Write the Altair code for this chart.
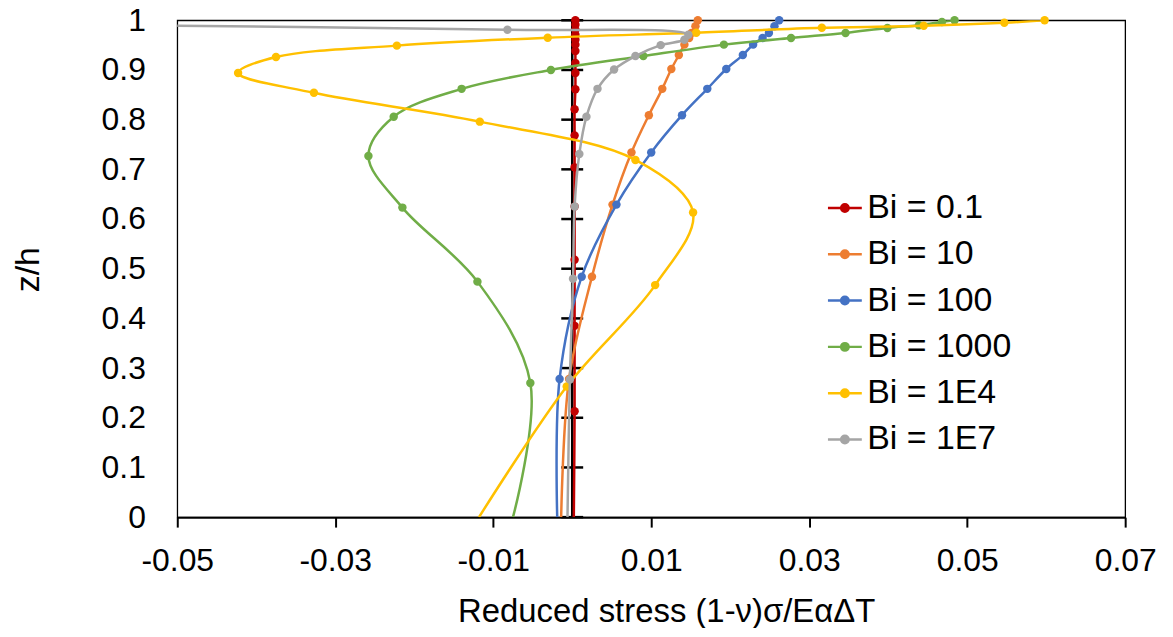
import altair as alt
import pandas as pd

# ---------------- data ----------------
series_names = ["Bi = 0.1", "Bi = 10", "Bi = 100", "Bi = 1000", "Bi = 1E4", "Bi = 1E7"]
series_colors = ["#C00000", "#ED7D31", "#4472C4", "#70AD47", "#FFC000", "#A5A5A5"]

red_z = [0.0, 0.213, 0.385, 0.518, 0.625, 0.704, 0.768, 0.821, 0.861, 0.894, 0.914, 0.938, 0.951, 0.961, 0.971, 0.981, 0.991, 1.0]
red_x = [0.0002, 0.0003, 0.0003, 0.0003, 0.0003, 0.0003, 0.0003, 0.0003, 0.0004, 0.0004, 0.0004, 0.0004, 0.0004, 0.0004, 0.0004, 0.0004, 0.0004, 0.0004]

orange_z = [0.0, 0.278, 0.484, 0.629, 0.734, 0.809, 0.862, 0.902, 0.930, 0.951, 0.9645, 0.9745, 0.988, 1.0]
orange_x = [-0.0014, -0.0004, 0.0025, 0.0051, 0.0075, 0.0097, 0.0114, 0.01255, 0.0135, 0.0142, 0.0148, 0.0151, 0.0156, 0.0159]

blue_z = [0.0, 0.278, 0.484, 0.629, 0.734, 0.809, 0.862, 0.902, 0.930, 0.951, 0.9645, 0.9745, 0.988, 1.0]
blue_x = [-0.0019, -0.0016, 0.0012, 0.0056, 0.0100, 0.0139, 0.0171, 0.0195, 0.0216, 0.0229, 0.0241, 0.0249, 0.0256, 0.0262]

green_z = [0.0, 0.270, 0.474, 0.623, 0.727, 0.806, 0.862, 0.900, 0.928, 0.951, 0.9645, 0.9745, 0.9846, 0.990, 0.9966, 1.0]
green_x = [-0.0075, -0.0053, -0.0120, -0.0215, -0.0258, -0.0226, -0.0140, -0.0027, 0.0090, 0.0192, 0.0277, 0.0346, 0.0399, 0.0439, 0.0468, 0.0484]

yellow_z = [0.0, 0.263, 0.467, 0.613, 0.719, 0.796, 0.854, 0.894, 0.926, 0.949, 0.965, 0.975, 0.985, 0.989, 0.995, 1.0]
yellow_x = [-0.0118, -0.0007, 0.0105, 0.0153, 0.0080, -0.0117, -0.0327, -0.0423, -0.0375, -0.0222, -0.0031, 0.0157, 0.0316, 0.0445, 0.0547, 0.0598]

gray_z = [0.0, 0.277, 0.480, 0.625, 0.731, 0.806, 0.862, 0.901, 0.928, 0.950, 0.961, 0.971, 0.981, 0.9905]
gray_x = [-0.0006, -0.0003, 0.0001, 0.0003, 0.0009, 0.0018, 0.0032, 0.0053, 0.0080, 0.0112, 0.0142, 0.0147, -0.0082, -0.0605]

x_domain = [-0.05, 0.07]
y_domain = [0.0, 1.0]
x_ticks = [-0.05, -0.03, -0.01, 0.01, 0.03, 0.05, 0.07]
y_ticks = [0.0, 0.1, 0.2, 0.3, 0.4, 0.5, 0.6, 0.7, 0.8, 0.9, 1.0]
cross_x = 0.0  # vertical axis crosses at zero

x_title = "Reduced stress (1-ν)σ/EαΔT"
y_title = "z/h"

# ---------------- build table ----------------
all_x = [red_x, orange_x, blue_x, green_x, yellow_x, gray_x]
all_z = [red_z, orange_z, blue_z, green_z, yellow_z, gray_z]
rows = []
for name, xs, zs in zip(series_names, all_x, all_z):
    for i, (xv, zv) in enumerate(zip(xs, zs)):
        rows.append({"series": name, "x": xv, "z": zv, "idx": i,
                     "marker": bool(zv > y_domain[0] and x_domain[0] <= xv <= x_domain[1])})
df = pd.DataFrame(rows)

zero_df = pd.DataFrame({"x": [cross_x], "z": [y_domain[0]], "z2": [y_domain[1]]})
tick_df = pd.DataFrame({"x": [cross_x] * len(y_ticks), "z": y_ticks})

FONT = "Liberation Sans"

xscale = alt.Scale(domain=x_domain, nice=False, zero=False)
yscale = alt.Scale(domain=y_domain, nice=False, zero=False)

x_axis = alt.Axis(values=x_ticks,
                  labelExpr="(datum.value < 0 ? '-' : '') + format(abs(datum.value), '.2f')",
                  title=x_title, grid=False,
                  tickSize=10, tickColor="black", tickWidth=2,
                  domainColor="black", domainWidth=2,
                  labelFont=FONT, labelFontSize=32, labelColor="black",
                  labelPadding=19, labelFlush=False, labelOverlap=False,
                  titleFont=FONT, titleFontSize=33, titleColor="black",
                  titleFontWeight="normal", titleX=491, titleY=105,
                  titleAlign="center", titleBaseline="alphabetic")
y_axis = alt.Axis(values=y_ticks, format=".1~f", title=y_title, grid=False,
                  ticks=False, tickSize=0, domain=False,
                  labelFont=FONT, labelFontSize=32, labelColor="black",
                  labelPadding=32, labelOverlap=False, labelFlush=False,
                  titleFont=FONT, titleFontSize=34, titleColor="black",
                  titleFontWeight="normal", titleX=-149, titleY=250,
                  titleAngle=-90, titleBaseline="middle", titleAlign="center")

X = alt.X("x:Q", scale=xscale, axis=x_axis)
Y = alt.Y("z:Q", scale=yscale, axis=y_axis)

sym_path = "M-1,0H1M-0.22,0A0.22,0.22,0,1,1,0.22,0A0.22,0.22,0,1,1,-0.22,0Z"

def make_legend():
    return alt.Legend(title=None, orient="none", legendX=652, legendY=170,
                      symbolType=sym_path, symbolSize=1156, symbolStrokeWidth=2.5,
                      symbolOpacity=1, labelFont=FONT, labelFontSize=34,
                      labelColor="black", rowPadding=10.5, labelOffset=4, padding=0)

S = alt.Stroke("series:N", scale=alt.Scale(domain=series_names, range=series_colors),
               legend=make_legend())
F = alt.Fill("series:N", scale=alt.Scale(domain=series_names, range=series_colors),
             legend=make_legend())

zero_line = alt.Chart(zero_df).mark_rule(color="black", strokeWidth=2.5).encode(
    x=X, y=Y, y2="z2:Q")
cross_ticks = alt.Chart(tick_df).mark_tick(orient="horizontal", size=22, opacity=1,
                                           thickness=2.5, color="black").encode(x=X, y=Y)

layers = [zero_line, cross_ticks]
base = alt.Chart(df)
for name in series_names:
    line = base.transform_filter(alt.datum.series == name).mark_line(
        interpolate="catmull-rom", strokeWidth=2.5, clip=True).encode(
        x=X, y=Y, stroke=S, order="idx:Q")
    pts = base.transform_filter((alt.datum.series == name) & alt.datum.marker).mark_point(
        shape="circle", size=72, opacity=1, filled=True, strokeWidth=0).encode(x=X, y=Y, fill=F)
    layers += [line, pts]

chart = alt.layer(*layers).properties(
    width=952, height=499,
    autosize=alt.AutoSizeParams(type="none"),
    padding={"left": 170, "top": 11, "right": 40, "bottom": 110},
    background="white",
).configure_view(stroke="black", strokeWidth=1.3)

chart.save("out.html", embed_options={"renderer": "svg", "actions": False})
